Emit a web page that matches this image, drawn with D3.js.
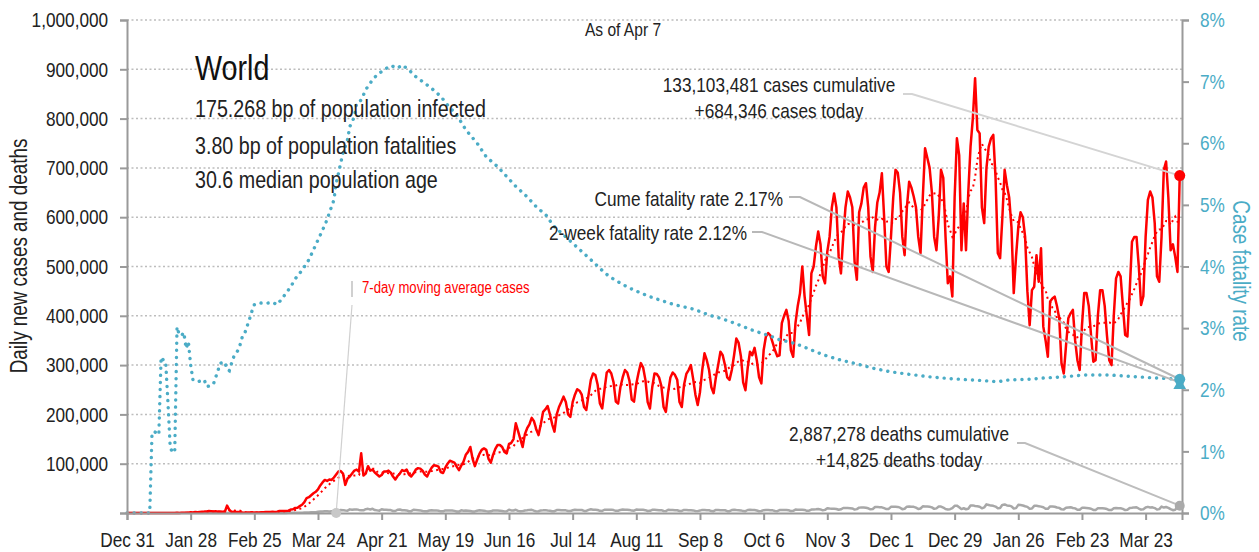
<!DOCTYPE html>
<html>
<head>
<meta charset="utf-8">
<script src="https://cdn.jsdelivr.net/npm/d3@7"></script>
<style>
  body { margin: 0; background: #fff; }
  svg text { font-family: "Liberation Sans", Arial, sans-serif; }
</style>
</head>
<body>
<svg id="chart" width="1259" height="552"></svg>
<script>
// day 0 = Dec 31 2019, one value per day up to Apr 7 2021
const startDate = new Date(2019, 11, 31);
const endDate = new Date(2021, 3, 8);
const tickStepDays = 28;

// daily new cases, thousands
const casesK = [
  0,0,0,0,0,0,0,0,0,0,0,0,0,0,0,0,0,0,0,0,0,0,
  0.6,0.1,0.3,0.5,0.7,0.8,1.7,1.2,2.0,1.7,
  2.1,2.6,2.8,3.2,3.9,3.7,3.2,3.4,2.7,3.0,
  2.5,2.0,15.1,6.5,2.1,2.6,2.0,1.9,1.8,0.4,
  0.6,1.0,1.0,1.7,0.8,0.9,1.0,1.4,1.6,
  2.0,1.8,1.9,2.4,2.2,2.8,3.9,4.0,3.9,4.0,
  4.6,7.0,7.5,10.3,10.8,13.9,16.8,22,30,32,36,40,43,
  48,56,62,67,65,68,67,
  72,78,84,85,80,57,70,
  74,80,86,88,84,121,76,
  80,95,86,88,82,78,74,
  77,84,84,86,82,74,68,
  75,80,87,85,88,78,74,
  80,88,91,90,86,78,74,
  84,92,97,96,94,83,81,
  92,100,106,104,102,94,87,
  96,104,118,124,134,110,95,
  108,120,128,131,128,110,102,
  118,130,138,138,134,124,121,
  140,142,150,182,166,150,134,
  160,172,180,193,186,170,158,
  180,205,210,217,200,180,165,
  200,215,225,236,225,200,195,
  225,240,251,248,240,215,209,
  240,270,283,280,260,222,212,
  250,285,290,283,265,226,222,
  255,275,290,285,268,230,226,
  262,285,304,295,270,225,212,
  255,283,282,275,258,215,205,
  245,275,285,280,270,225,215,
  260,282,290,300,272,240,219,
  245,290,324,310,290,255,243,
  275,300,327,320,300,275,270,
  290,320,354,345,318,265,249,
  295,327,320,335,310,275,263,
  330,358,365,360,345,330,318,
  320,385,400,412,390,330,317,
  385,420,446,500,440,400,361,
  486,500,540,571,545,480,466,
  530,560,620,648,620,520,486,
  560,620,652,640,620,510,473,
  610,628,660,669,620,520,489,
  580,630,650,689,600,500,489,
  560,640,696,690,650,560,523,
  620,672,660,642,620,560,527,
  640,740,720,700,650,560,533,
  600,696,680,560,466,480,439,
  640,760,726,533,628,533,650,
  743,800,882,777,770,620,588,
  700,743,760,767,680,527,517,
  600,696,665,640,580,446,520,
  580,610,600,560,450,381,452,
  459,523,469,537,378,350,317,
  429,435,439,420,395,304,283,
  340,395,405,412,350,310,290,
  380,446,446,420,360,307,310,
  400,452,452,420,360,310,300,
  400,476,489,480,420,361,358,
  450,550,560,560,500,422,440,
  560,635,652,640,588,480,469,
  560,696,713,640,533,545,520,
  489,684.346
];

// daily deaths, thousands
const deathsK = [
  0,0,0,0,0,0,0,0,0,0,0,0,0,0,0,0,0,0,0,0,0,0,
  0.02,0,0.01,0.02,0.01,0.03,0.05,0,0.04,0.04,
  0.05,0.06,0.06,0.07,0.07,0.09,0.09,0.09,0.1,0.11,
  0.1,0.1,0.25,0.14,0.14,0.1,0.1,0.1,0.14,0.12,
  0.1,0.1,0.1,0.15,0.07,0.05,0.04,0.06,0.06,
  0.07,0.07,0.08,0.06,0.06,0.1,0.1,0.1,0.2,0.2,
  0.3,0.3,0.3,0.4,0.4,0.5,0.6,0.8,1.0,1.0,1.4,1.7,1.7,
  2.4,2.8,2.9,3.5,3.6,3.2,3.3,
  4.5,4.9,5.2,6.1,5.8,4.9,4.8,
  7.4,6.4,7.2,7.3,6.3,5.5,5.4,
  7.7,8.4,7.2,8.5,6.0,5.3,4.7,
  7.6,6.6,6.7,5.9,5.9,4.1,4.0,
  6.6,7.0,5.5,5.5,5.2,3.5,3.7,
  6.5,6.0,5.6,5.3,4.2,3.4,3.6,
  5.0,5.4,5.3,5.3,4.4,3.3,3.3,
  5.2,4.9,5.0,5.1,4.3,3.1,2.9,
  5.5,4.6,5.0,4.7,4.0,3.1,3.2,
  4.6,5.4,5.0,4.7,3.8,3.2,3.4,
  5.0,5.1,4.9,4.8,4.2,3.3,3.6,
  6.7,5.2,5.1,6.5,4.3,3.4,3.8,
  5.2,5.4,6.3,6.5,4.7,3.3,3.6,
  5.3,5.4,5.8,5.0,4.6,3.6,3.6,
  6.0,6.0,5.6,5.6,5.4,4.1,3.9,
  5.6,6.6,6.2,6.0,6.1,4.3,4.2,
  6.4,7.6,6.7,6.5,6.1,4.4,4.3,
  6.6,6.8,6.8,6.8,5.9,4.4,4.6,
  6.3,7.1,6.8,6.8,6.3,4.9,4.6,
  7.0,6.6,6.4,6.4,5.8,4.1,4.4,
  6.5,6.4,6.2,5.8,5.8,4.1,3.8,
  6.5,6.1,6.0,5.6,5.5,4.0,4.1,
  6.2,6.2,5.8,5.7,5.3,4.2,3.8,
  4.9,6.3,6.2,5.8,5.5,3.9,3.7,
  6.2,6.1,5.8,5.7,5.6,3.8,3.8,
  6.0,6.4,6.0,5.8,5.3,3.9,3.7,
  6.1,6.4,6.3,5.9,5.1,3.6,4.0,
  5.8,6.3,6.0,5.7,5.4,4.0,3.7,
  5.9,6.1,6.1,6.3,5.5,3.9,4.4,
  6.9,6.7,6.4,6.8,6.3,4.4,4.8,
  7.0,7.3,7.5,7.9,7.2,5.4,6.3,
  9.5,9.0,8.8,8.6,8.2,6.6,7.5,
  10.1,10.3,10.1,9.8,9.2,7.0,7.9,
  10.9,11.1,11.3,10.7,9.6,7.4,8.2,
  12.2,12.4,11.5,11.5,9.8,7.9,8.3,
  12.5,12.8,12.6,12.3,10.8,7.8,8.7,
  12.8,13.1,12.5,12.5,10.8,8.0,9.2,
  13.5,13.2,13.3,12.6,11.4,8.4,9.4,
  13.1,13.1,11.1,8.2,7.3,7.8,9.9,
  14.6,14.9,11.8,7.9,9.6,7.6,8.7,
  15.2,15.4,14.3,13.8,12.7,9.5,11.4,
  17.5,16.2,15.0,14.5,13.0,9.7,10.3,
  16.5,17.4,15.4,14.9,13.5,9.1,9.9,
  16.5,16.1,15.2,13.6,12.4,8.5,9.0,
  14.5,14.5,13.8,12.9,11.6,8.6,8.5,
  13.4,13.2,12.7,11.1,10.4,7.4,7.3,
  10.5,11.3,11.8,10.1,9.4,6.6,6.5,
  10.5,10.6,10.2,9.5,8.6,6.2,6.3,
  9.7,9.6,9.6,9.0,8.1,5.9,6.2,
  9.6,10.1,9.8,9.7,8.4,6.0,6.6,
  10.1,10.5,11.4,11.6,9.1,6.8,7.7,
  11.3,12.5,11.2,11.5,10.0,7.0,7.9,
  13.1,11.0,12.2,10.5,7.8,5.6,6.6,
  12.3,14.825
];

// cumulative case fatality rate (%), read at these day offsets
const cfrDay = [0,10,11,12,13,14,15,16,17,18,19,20,21,22,23,24,25,26,27,28,
  29,30,31,33,34,35,37,38,39,40,41,43,44,45,46,47,49,50,51,52,
  53,54,55,56,58,61,64,66,68,70,72,74,77,80,82,84,86,88,89,91,
  92,93,94,95,97,98,100,101,103,105,108,110,113,116,119,121,124,127,130,134,
  138,141,145,149,154,158,163,167,171,176,180,185,187,204,208,212,217,221,226,230,
  234,239,243,248,252,256,261,265,270,274,278,283,287,292,296,300,306,314,321,328,
  336,344,353,362,371,376,383,388,397,403,412,421,432,440,444,453,463];
const cfrPct = [0,0,1.3,1.32,1.3,1.27,2.53,2.48,2.46,1.8,1.07,0.98,1.0,3.02,2.89,2.88,2.93,2.67,2.78,2.4,
  2.16,2.14,2.13,2.15,2.16,2.05,2.07,2.09,2.2,2.31,2.43,2.45,2.33,2.31,2.43,2.54,2.65,2.76,2.9,2.94,
  3.05,3.16,3.28,3.38,3.41,3.40,3.42,3.38,3.47,3.57,3.67,3.8,3.94,4.11,4.27,4.43,4.59,4.76,4.87,5.08,
  5.35,5.51,5.68,5.84,6.06,6.27,6.43,6.65,6.70,6.87,7.03,7.11,7.19,7.26,7.22,7.27,7.19,7.08,7.0,6.89,
  6.76,6.62,6.46,6.22,6.0,5.78,5.62,5.46,5.30,5.13,4.97,4.81,4.68,4.11,3.97,3.84,3.73,3.65,3.57,3.51,
  3.46,3.40,3.36,3.32,3.27,3.21,3.16,3.11,3.04,2.98,2.93,2.87,2.81,2.77,2.72,2.66,2.57,2.48,2.42,2.35,
  2.29,2.25,2.21,2.18,2.16,2.15,2.13,2.16,2.17,2.19,2.21,2.24,2.24,2.22,2.21,2.19,2.17];

const cumCases = 133103481, todayCases = 684346;
const cumDeaths = 2887278, todayDeaths = 14825;
const cumeRate = 2.17, twoWeekRate = 2.12;
const labelDay = 92; // where the "7-day moving average" leader lands

const RED = "#ff0000", TEAL = "#4bacc6", AXIS = "#9a9a9a";
const NARROW = 0.82; // squeeze Liberation Sans into a narrow face
const svg = d3.select("#chart");
const plot = { left: 127, right: 1182, top: 20, bottom: 513 };

const x = d3.scaleTime().domain([startDate, endDate]).range([plot.left, plot.right]);
const y = d3.scaleLinear().domain([0, 1000000]).range([plot.bottom, plot.top]);
const yR = d3.scaleLinear().domain([0, 8]).range([plot.bottom, plot.top]);

const dayDate = i => d3.timeDay.offset(startDate, i);
const cases = casesK.map(v => v * 1000);
const deaths = deathsK.map(v => v * 1000);
const movingAvg = cases.map((v, i) => i < 6 ? null : d3.mean(cases.slice(i - 6, i + 1)));
const lastDay = cases.length - 1;
const xLast = x(dayDate(lastDay));

// gridlines
svg.append("g").selectAll("line")
  .data(y.ticks(10).filter(d => d > 0))
  .join("line")
  .attr("x1", plot.left).attr("x2", plot.right)
  .attr("y1", d => y(d)).attr("y2", d => y(d))
  .attr("stroke", "#bdbdbd").attr("stroke-width", 1.5)
  .attr("stroke-dasharray", "2,2.5");

const seriesLine = d3.line()
  .defined(d => d != null)
  .x((d, i) => x(dayDate(i)))
  .y(d => y(d));

// deaths
svg.append("path").datum(deaths)
  .attr("d", seriesLine)
  .attr("fill", "none").attr("stroke", "#a8a8a8")
  .attr("stroke-width", 2.5).attr("stroke-linejoin", "round");

// cases
svg.append("path").datum(cases)
  .attr("d", seriesLine)
  .attr("fill", "none").attr("stroke", RED)
  .attr("stroke-width", 2.5).attr("stroke-linejoin", "round");

svg.append("path").datum(movingAvg)
  .attr("d", seriesLine)
  .attr("fill", "none").attr("stroke", RED)
  .attr("stroke-width", 2).attr("stroke-dasharray", "2,3.5");

// case fatality rate
const cfrLine = d3.line()
  .x((d, i) => x(dayDate(cfrDay[i])))
  .y(d => yR(d));
svg.append("path").datum(cfrPct)
  .attr("d", cfrLine)
  .attr("fill", "none").attr("stroke", TEAL)
  .attr("stroke-width", 3.4).attr("stroke-linecap", "round")
  .attr("stroke-dasharray", "0.1,7");

// axes
const styleAxis = (g, color) => {
  g.select(".domain").attr("stroke", AXIS).attr("stroke-width", 2);
  g.selectAll(".tick line").attr("stroke", AXIS).attr("stroke-width", 2);
  g.selectAll(".tick text").attr("fill", color).style("font-size", "21px")
    .attr("transform", `scale(${NARROW},1)`);
};

svg.append("g")
  .attr("transform", `translate(${plot.left},0)`)
  .call(d3.axisLeft(y).ticks(10).tickSizeOuter(0).tickSize(7).tickPadding(16)
    .tickFormat(d => d === 0 ? "" : d3.format(",")(d)))
  .call(g => styleAxis(g, "#222"));

svg.append("g")
  .attr("transform", `translate(${plot.right},0)`)
  .call(d3.axisRight(yR).ticks(8).tickSizeOuter(0).tickSize(7).tickPadding(15)
    .tickFormat(d => d + "%"))
  .call(g => styleAxis(g, TEAL));

const xTicks = d3.range(0, lastDay, tickStepDays).map(dayDate);
svg.append("g")
  .attr("transform", `translate(0,${plot.bottom})`)
  .call(d3.axisBottom(x).tickValues(xTicks).tickSizeOuter(0).tickSize(7).tickPadding(12)
    .tickFormat(d3.timeFormat("%b %-d")))
  .call(g => styleAxis(g, "#222"));

// text helper: narrow look via horizontal squeeze
const addText = (txt, tx, ty, size, anchor, color, rot) =>
  svg.append("text")
    .attr("transform", `translate(${tx},${ty})${rot ? ` rotate(${rot})` : ""} scale(${NARROW},1)`)
    .attr("text-anchor", anchor || "start")
    .attr("fill", color || "#222")
    .style("font-size", size + "px")
    .text(txt);

// axis titles
addText("Daily new cases and deaths", 27, 256, 23, "middle", "#222", -90);
addText("Case fatality rate", 1233, 271, 23, "middle", TEAL, 90);

// header texts
addText("As of Apr 7", 623, 36, 19, "middle");
addText("World", 195, 80, 35, "start", "#111");
addText("175.268 bp of population infected", 195, 117, 24);
addText("3.80 bp of population fatalities", 195, 154, 24);
addText("30.6 median population age", 195, 188, 24);

// annotations with leader lines
const fmt = d3.format(",");
const leader = (pts, color) =>
  svg.append("path").attr("d", d3.line()(pts))
    .attr("fill", "none").attr("stroke", color).attr("stroke-width", 2);

addText(`${fmt(cumCases)} cases cumulative`, 779, 92, 21, "middle");
addText(`+${fmt(todayCases)} cases today`, 779, 118, 21, "middle");
leader([[903, 94], [912, 94], [xLast, y(todayCases)]], "#d4d4d4");

addText(`Cume fatality rate ${cumeRate.toFixed(2)}%`, 783, 206, 21, "end");
leader([[789, 197], [800, 197], [xLast, yR(cumeRate)]], "#b8b8b8");

addText(`2-week fatality rate ${twoWeekRate.toFixed(2)}%`, 747, 240, 21, "end");
leader([[752, 232], [762, 232], [xLast, yR(twoWeekRate)]], "#b8b8b8");

addText(`${fmt(cumDeaths)} deaths cumulative`, 899, 441, 21, "middle");
addText(`+${fmt(todayDeaths)} deaths today`, 899, 467, 21, "middle");
leader([[1017, 443], [1025, 443], [xLast, y(todayDeaths)]], "#bdbdbd");

// moving average label
addText("7-day moving average cases", 362, 293, 16, "start", RED);
svg.append("line").attr("x1", 352).attr("x2", 352).attr("y1", 281).attr("y2", 297)
  .attr("stroke", "#d0d0d0").attr("stroke-width", 2);
svg.append("line").attr("x1", 352).attr("y1", 305)
  .attr("x2", x(dayDate(labelDay))).attr("y2", y(0))
  .attr("stroke", "#d0d0d0").attr("stroke-width", 1.2);
svg.append("circle").attr("cx", x(dayDate(labelDay))).attr("cy", y(0)).attr("r", 5)
  .attr("fill", "#c8c8c8");

// end markers
svg.append("circle").attr("cx", xLast).attr("cy", y(todayCases)).attr("r", 5.5).attr("fill", RED);
svg.append("circle").attr("cx", xLast).attr("cy", y(todayDeaths)).attr("r", 5).attr("fill", "#aaa");
svg.append("circle").attr("cx", xLast).attr("cy", yR(cumeRate)).attr("r", 5.5).attr("fill", TEAL);
svg.append("path")
  .attr("d", d3.symbol(d3.symbolTriangle, 70)())
  .attr("transform", `translate(${xLast},${yR(twoWeekRate) + 3})`)
  .attr("fill", TEAL);
</script>
</body>
</html>
